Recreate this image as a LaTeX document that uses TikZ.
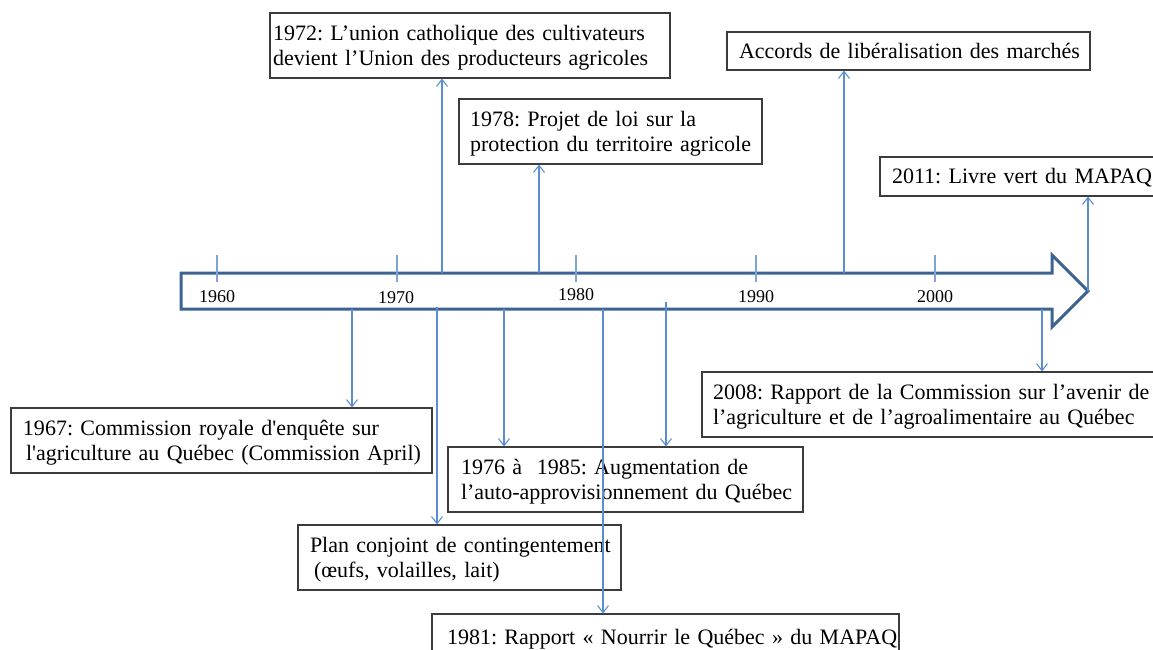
\documentclass[tikz,border=0pt]{standalone}
\usepackage{fontspec}
\setmainfont{Liberation Serif}
\usetikzlibrary{arrows.meta}
\definecolor{axisblue}{RGB}{61,100,145}
\definecolor{linkblue}{RGB}{91,142,207}
\definecolor{tickblue}{RGB}{125,165,215}
\definecolor{boxgray}{RGB}{60,60,60}
\frenchspacing
\begin{document}
\begin{tikzpicture}[x=1pt,y=-1pt,
  evbox/.style={draw=boxgray, line width=1.1pt, align=left, inner ysep=0pt,
    font=\fontsize{22}{25}\selectfont\frenchspacing, text height=14.5pt},
  twoline/.style={minimum height=65pt, text depth=25pt},
  oneline/.style={minimum height=#1, text depth=0pt},
  link/.style={draw=linkblue, line width=1.1pt, -{Straight Barb[length=7pt,width=11pt]}},
  tickmark/.style={draw=tickblue, line width=1.2pt},
  yr/.style={font=\fontsize{18}{20}\selectfont, anchor=base, inner sep=0pt}]
\clip (0,0) rectangle (1153,649);
% main timeline arrow
\draw[axisblue, line width=3pt, line join=miter, fill=white]
  (181,273) -- (1052,273) -- (1052,255) -- (1088,291) -- (1052,327) -- (1052,309) -- (181,309) -- cycle;
% ticks
\foreach \x in {217,397,576,756,935} \draw[tickmark] (\x,255) -- (\x,282);
% year labels
\node[yr] (y1960) at (217,302) {1960};
\node[yr] (y1970) at (396,303) {1970};
\node[yr] (y1980) at (576,300) {1980};
\node[yr] (y1990) at (756,302) {1990};
\node[yr] (y2000) at (935,302) {2000};
% event boxes
\node[evbox, twoline, text width=394pt, inner xsep=3pt] (b1972) at (470,45.5)
  {\mbox{1972: L’union catholique des cultivateurs}\\\mbox{devient l’Union des producteurs agricoles}};
\node[evbox, twoline, text width=281pt, inner xsep=11pt] (b1978) at (610.5,131.5)
  {\mbox{1978: Projet de loi sur la}\\\mbox{protection du territoire agricole}};
\node[evbox, oneline=38pt, text width=339pt, inner xsep=12pt] (bacc) at (908.5,51)
  {\mbox{Accords de libéralisation des marchés}};
\node[evbox, oneline=39pt, text width=266pt, inner xsep=12pt] (b2011) at (1025,176.5)
  {\mbox{2011: Livre vert du MAPAQ}};
\node[evbox, twoline, text width=446pt, inner xsep=11pt] (b2008) at (936,404.5)
  {\mbox{2008: Rapport de la Commission sur l’avenir de}\\\mbox{l’agriculture et de l’agroalimentaire au Québec}};
\node[evbox, twoline, text width=397pt, inner xsep=12pt] (b1967) at (221.5,440.5)
  {\mbox{1967: Commission royale d\textquotesingle enquête sur}\\\mbox{\hspace*{3pt}l\textquotesingle agriculture au Québec (Commission April)}};
\node[evbox, twoline, text width=329pt, inner xsep=13pt] (b1976) at (625.5,479.5)
  {\mbox{1976 à\ \ 1985: Augmentation de}\\\mbox{l’auto-approvisionnement du Québec}};
\node[evbox, twoline, text width=299pt, inner xsep=12pt] (bplan) at (459.5,557.5)
  {\mbox{Plan conjoint de contingentement}\\\mbox{\hspace*{4pt}(œufs, volailles, lait)}};
\node[evbox, oneline=46pt, text width=437pt, inner xsep=15pt] (b1981) at (665.5,637)
  {\mbox{1981: Rapport « Nourrir le Québec » du MAPAQ}};
% attachment points on the timeline
\coordinate (t1972) at (442,273);
\coordinate (t1978) at (539,273);
\coordinate (tacc) at (844,273);
\coordinate (t2011) at (1088,291);
\coordinate (t1967) at (352,309);
\coordinate (tplan) at (437,307);
\coordinate (t1976a) at (504,309);
\coordinate (t1976b) at (666,302);
\coordinate (t1981) at (603,309);
\coordinate (t2008) at (1042,309);
% connectors
\draw[link] (t1972) -- (t1972 |- b1972.south);
\draw[link] (t1978) -- (t1978 |- b1978.south);
\draw[link] (tacc) -- (tacc |- bacc.south);
\draw[link] (t2011) -- (t2011 |- b2011.south);
\draw[link] (t1967) -- (t1967 |- b1967.north);
\draw[link] (tplan) -- (tplan |- bplan.north);
\draw[link] (t1976a) -- (t1976a |- b1976.north);
\draw[link] (t1976b) -- (t1976b |- b1976.north);
\draw[link] (t1981) -- (t1981 |- b1981.north);
\draw[link] (t2008) -- (t2008 |- b2008.north);
\end{tikzpicture}
\end{document}
